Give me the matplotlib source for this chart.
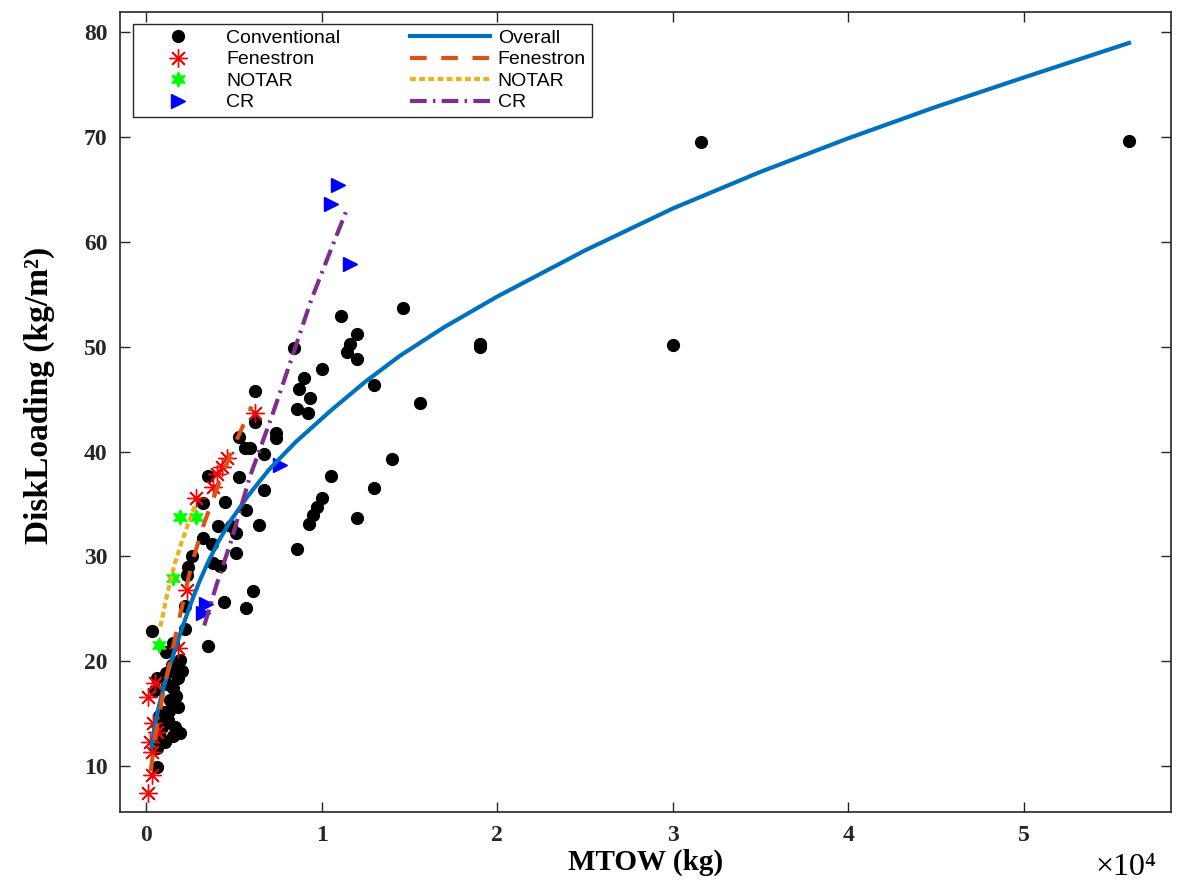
import numpy as np
import matplotlib
matplotlib.use("Agg")
import matplotlib.pyplot as plt

# Conventional tail rotor helicopters (MTOW kg, disk loading kg/m^2)
conv_mtow = [56000, 31600, 30000, 19000, 19000, 15600, 14600, 14000, 13000, 13000,
             12000, 11600, 11450, 12000, 11100, 12000, 10500, 10000, 10000, 9750,
             9500, 9250, 9000, 8700, 9300, 8600, 9200, 8400, 8600, 7400,
             7400, 6700, 6700, 6400, 6200, 6200, 6100, 5700, 5900, 5600,
             5300, 5300, 5700, 5100, 5100, 4800, 4500, 4400, 4100, 4200,
             3800, 3750, 3500, 3500, 3200, 3200, 2600, 2400, 2300, 2200,
             2200, 1500, 1100, 340, 1940, 2050, 1820, 630, 1540, 510,
             1370, 1820, 970, 1250, 1650, 1940, 910, 800, 1080, 630, 630,
             1100, 1450, 1700, 1300, 1500, 1200, 700, 1600]
conv_dl = [69.6, 69.5, 50.2, 50.3, 50.0, 44.6, 53.7, 39.3, 46.4, 36.5,
           51.2, 50.3, 49.5, 48.8, 52.9, 33.7, 37.7, 47.9, 35.6, 34.7,
           33.9, 33.1, 47.0, 46.0, 45.1, 44.1, 43.7, 49.9, 30.7, 41.8,
           41.3, 39.8, 36.3, 33.0, 45.8, 42.8, 26.7, 25.1, 40.3, 40.3,
           41.4, 37.6, 34.4, 32.2, 30.3, 32.9, 35.2, 25.6, 32.9, 29.1,
           29.4, 31.2, 37.7, 21.4, 35.1, 31.8, 30.0, 29.0, 28.2, 25.3,
           23.1, 21.7, 20.9, 22.9, 20.1, 19.1, 18.4, 18.4, 17.4, 17.2,
           16.3, 15.6, 15.1, 14.4, 13.7, 13.1, 13.7, 12.8, 12.3, 11.7, 9.9,
           18.9, 19.6, 16.7, 15.2, 12.9, 17.8, 14.8, 19.0]

fen_mtow = [100, 300, 300, 200, 600, 400, 100, 500, 1800, 2300, 2800, 3800, 4000, 4300, 4600, 6200]
fen_dl = [7.4, 9.1, 11.3, 12.3, 13.2, 14.1, 16.6, 17.9, 21.3, 26.8, 35.6, 36.6, 37.9, 38.5, 39.4, 43.7]

notar_mtow = [700, 1500, 1900, 2800]
notar_dl = [21.5, 27.9, 33.8, 33.8]

cr_mtow = [10900, 10500, 11600, 7600, 3400, 3200]
cr_dl = [65.4, 63.6, 57.9, 38.7, 25.5, 24.6]

# fitted curves
overall_mtow = [300, 500, 700, 1000, 1400, 2000, 2600, 3000, 3500, 4100, 4800, 5800,
                7000, 8500, 10500, 12500, 14500, 17000, 20000, 25000, 30000, 35000,
                40000, 45000, 50000, 56000]
overall_dl = [11.8, 14.0, 15.6, 17.6, 19.9, 23.0, 25.8, 27.5, 29.4, 31.4, 33.4, 35.8,
              38.3, 40.9, 43.9, 46.7, 49.2, 51.9, 54.8, 59.2, 63.2, 66.7,
              69.9, 72.9, 75.7, 79.0]

fen_fit_mtow = [250, 500, 1000, 1800, 2600, 3300, 4100, 4800, 5700, 6000]
fen_fit_dl = [9.5, 12.8, 17.3, 23.5, 29.4, 33.2, 36.8, 39.8, 43.2, 44.3]

notar_fit_mtow = [800, 1200, 1600, 2000, 2400, 2800]
notar_fit_dl = [23.3, 26.5, 29.2, 31.3, 33.2, 35.0]

cr_fit_mtow = [3300, 4000, 4800, 5900, 7200, 8400, 9400, 10500, 11450]
cr_fit_dl = [23.4, 27.3, 31.3, 37.6, 43.6, 49.5, 54.5, 59.2, 63.2]

serif = ['Liberation Serif', 'DejaVu Serif']

fig = plt.figure(figsize=(11.77, 8.86), dpi=100)
ax = fig.add_axes([0.102, 0.0835, 0.893, 0.9035])

h_conv, = ax.plot(conv_mtow, conv_dl, 'o', color='k', ms=8.5, ls='none', label='Conventional')
h_fen, = ax.plot(fen_mtow, fen_dl, marker=(8, 2, 0), color='#FF0000', ms=13, mew=1.0, ls='none', label='Fenestron')
h_notar, = ax.plot(notar_mtow, notar_dl, marker=(6, 1, 0), color='#00FF00', ms=11, ls='none', label='NOTAR')
h_cr, = ax.plot(cr_mtow, cr_dl, '>', color='#0000FF', ms=10, ls='none', label='CR')

l_all, = ax.plot(overall_mtow, overall_dl, '-', color='#0072BD', lw=3, label='Overall')
l_fen, = ax.plot(fen_fit_mtow, fen_fit_dl, color='#D95319', lw=3, dashes=(4, 3.5), label='Fenestron')
l_notar, = ax.plot(notar_fit_mtow, notar_fit_dl, color='#EDB120', lw=3, dashes=(1.4, 0.8), label='NOTAR')
l_cr, = ax.plot(cr_fit_mtow, cr_fit_dl, color='#7E2F8E', lw=3, dashes=(4, 1.5, 0.6, 1.5), label='CR')

ax.set_xlim(-1500, 58400)
ax.set_ylim(5.6, 82)
ax.set_xticks([0, 10000, 20000, 30000, 40000, 50000])
ax.set_xticklabels(['0', '1', '2', '3', '4', '5'])
ax.set_yticks([10, 20, 30, 40, 50, 60, 70, 80])
ax.tick_params(direction='in', top=True, right=True, length=7, width=1, color='#262626')
for lab in ax.get_xticklabels() + ax.get_yticklabels():
    lab.set_family(serif); lab.set_fontweight('bold'); lab.set_fontsize(17); lab.set_color('#262626')
ax.tick_params(axis='x', pad=9)
ax.tick_params(axis='y', pad=9)
for s in ax.spines.values():
    s.set_linewidth(1.2); s.set_color('#262626')

ax.set_xlabel('MTOW (kg)', family=serif, fontweight='bold', fontsize=21, labelpad=2)
ax.set_ylabel('DiskLoading (kg/m²)', family=serif, fontweight='bold', fontsize=24)
ax.yaxis.set_label_coords(-0.062, 0.52)
fig.text(0.957, 0.004, '×10⁴', family=serif, fontsize=23, ha='center', va='bottom')

ax.legend([h_conv, h_fen, h_notar, h_cr, l_all, l_fen, l_notar, l_cr],
          ['Conventional', 'Fenestron', 'NOTAR', 'CR', 'Overall', 'Fenestron', 'NOTAR', 'CR'],
          ncol=2, loc='upper left', bbox_to_anchor=(0.012, 0.985), borderaxespad=0,
          prop={'family': 'Liberation Sans', 'size': 14}, handlelength=4.1, handletextpad=0.4,
          columnspacing=3.6, labelspacing=0.2, fancybox=False, edgecolor='#262626',
          framealpha=1, borderpad=0.3)

fig.savefig('out.png', dpi=100)
